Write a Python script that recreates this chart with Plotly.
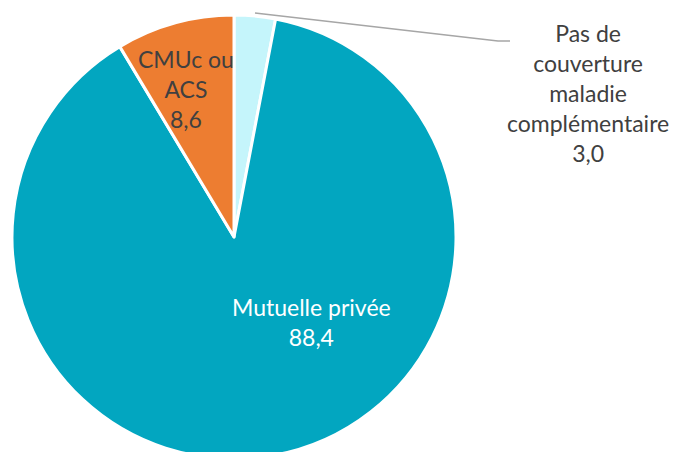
import plotly.graph_objects as go

# Data
labels = ["Pas de couverture maladie complémentaire", "Mutuelle privée", "CMUc ou ACS"]
values = [3.0, 88.4, 8.6]
value_labels = ["3,0", "88,4", "8,6"]
colors = ["#C5F5FB", "#02A6C0", "#ED7D31"]

W, H = 676, 460
ML, MR, MT, MB = 12, 0, 15, 1
PW, PH = W - ML - MR, H - MT - MB
D = 444  # pie diameter in px


def px(x):
    return (x - ML) / PW


def py(y):
    return (H - MB - y) / PH


fig = go.Figure(
    go.Pie(
        labels=labels,
        values=values,
        sort=False,
        direction="clockwise",
        rotation=0,
        textinfo="none",
        marker=dict(colors=colors, line=dict(color="#FFFFFF", width=3)),
        domain=dict(x=[0, D / PW], y=[0, 1]),
        showlegend=False,
        hoverinfo="label+value",
    )
)

font = "Lato, Carlito, 'Open Sans', sans-serif"
dark = "#404040"

annots = [
    dict(text="CMUc ou<br>ACS<br>" + value_labels[2], x=px(186), y=py(89), color=dark),
    dict(text="Mutuelle privée<br>" + value_labels[1], x=px(311), y=py(322), color="#FFFFFF"),
    dict(text="Pas de<br>couverture<br>maladie<br>complémentaire<br>" + value_labels[0],
         x=px(588), y=py(93), color=dark),
]
for a in annots:
    fig.add_annotation(
        text=a["text"], x=a["x"], y=a["y"], xref="paper", yref="paper",
        xanchor="center", yanchor="middle", showarrow=False, align="center",
        font=dict(family=font, size=23, color=a["color"]),
    )

# leader line
fig.add_shape(
    type="path",
    path=f"M {px(255)} {py(13)} L {px(498)} {py(41)} L {px(510)} {py(41)}",
    xref="paper", yref="paper",
    line=dict(color="#A6A6A6", width=1.5),
)

fig.update_layout(
    width=W, height=H,
    margin=dict(l=ML, r=MR, t=MT, b=MB),
    paper_bgcolor="#FFFFFF",
    plot_bgcolor="#FFFFFF",
)

fig.write_html(
    "out.html",
    config={"displayModeBar": False},
    post_script=(
        "document.documentElement.style.overflow='hidden';"
        "document.body.style.overflow='hidden';"
        "document.body.style.margin='0';"
    ),
)
